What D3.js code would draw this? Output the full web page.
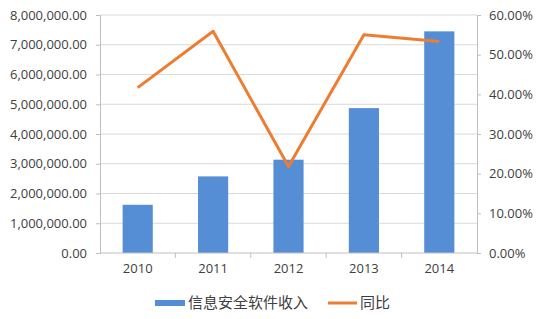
<!DOCTYPE html>
<html>
<head>
<meta charset="utf-8">
<script src="https://cdn.jsdelivr.net/npm/d3@7"></script>
<style>
  body { margin: 0; background: #fff; }
  text { font-family: "Open Sans", "Noto Sans CJK SC", sans-serif; fill: #404040; }
</style>
</head>
<body>
<svg width="542" height="319"></svg>
<script>
const years = ['2010', '2011', '2012', '2013', '2014'];
const revenue = [1620000, 2575000, 3136000, 4870000, 7450000];
const growth = [0.417, 0.559, 0.218, 0.550, 0.533];
const leftTicks = [0, 1000000, 2000000, 3000000, 4000000, 5000000, 6000000, 7000000, 8000000];
const rightTicks = [0, 0.1, 0.2, 0.3, 0.4, 0.5, 0.6];
const seriesNames = ['信息安全软件收入', '同比'];

const svg = d3.select('svg');
const margin = { top: 15, right: 65, bottom: 66, left: 100 };
const width = +svg.attr('width') - margin.left - margin.right;
const height = +svg.attr('height') - margin.top - margin.bottom;
const g = svg.append('g').attr('transform', 'translate(' + margin.left + ',' + margin.top + ')');

const x = d3.scaleBand().domain(years).range([0, width]).paddingInner(0.6).paddingOuter(0.3);
const xc = d3.scaleBand().domain(years).range([0, width]);
const y = d3.scaleLinear().domain([0, 8000000]).range([height, 0]);
const y2 = d3.scaleLinear().domain([0, 0.6]).range([height, 0]);

// grid
g.append('g')
  .selectAll('line')
  .data(leftTicks.slice(1))
  .enter()
  .append('line')
  .attr('x1', 0)
  .attr('x2', width)
  .attr('y1', function (d) { return y(d); })
  .attr('y2', function (d) { return y(d); })
  .attr('stroke', '#d9d9d9');

// left axis
const yAxis = g.append('g')
  .call(d3.axisLeft(y).tickValues(leftTicks).tickSize(4).tickPadding(9)
    .tickFormat(d3.format(',.2f')));
yAxis.select('.domain').attr('stroke', '#bfbfbf');
yAxis.selectAll('.tick line').attr('stroke', '#bfbfbf');
yAxis.selectAll('text').style('font-size', '13px');

// right axis
const y2Axis = g.append('g')
  .attr('transform', 'translate(' + width + ',0)')
  .call(d3.axisRight(y2).tickValues(rightTicks).tickSize(4).tickPadding(8)
    .tickFormat(d3.format('.2%')));
y2Axis.select('.domain').attr('stroke', '#bfbfbf');
y2Axis.selectAll('.tick line').attr('stroke', '#bfbfbf');
y2Axis.selectAll('text').style('font-size', '13px');

// bars
g.append('g')
  .selectAll('rect')
  .data(revenue)
  .enter()
  .append('rect')
  .attr('x', function (d, i) { return x(years[i]); })
  .attr('width', x.bandwidth())
  .attr('y', function (d) { return y(d); })
  .attr('height', function (d) { return height - y(d); })
  .attr('fill', '#568ed5');

// bottom axis
g.append('line')
  .attr('x1', 0).attr('x2', width)
  .attr('y1', height).attr('y2', height)
  .attr('stroke', '#bfbfbf');
g.append('g')
  .selectAll('line')
  .data(years.slice(1))
  .enter()
  .append('line')
  .attr('x1', function (d) { return xc(d); })
  .attr('x2', function (d) { return xc(d); })
  .attr('y1', height)
  .attr('y2', height + 5)
  .attr('stroke', '#bfbfbf');
g.append('g')
  .selectAll('text')
  .data(years)
  .enter()
  .append('text')
  .attr('x', function (d) { return xc(d) + xc.bandwidth() / 2; })
  .attr('y', height + 20)
  .attr('text-anchor', 'middle')
  .style('font-size', '13px')
  .text(function (d) { return d; });

// line
const line = d3.line()
  .x(function (d, i) { return xc(years[i]) + xc.bandwidth() / 2; })
  .y(function (d) { return y2(d); });
g.append('path')
  .datum(growth)
  .attr('d', line)
  .attr('fill', 'none')
  .attr('stroke', '#ed7d31')
  .attr('stroke-width', 3)
  .attr('stroke-linejoin', 'round');

// legend
const legend = svg.append('g').attr('transform', 'translate(0,303)');
legend.append('rect')
  .attr('x', 155).attr('y', -3).attr('width', 30).attr('height', 6)
  .attr('fill', '#568ed5');
legend.append('text')
  .attr('x', 188).attr('y', 0).attr('dy', '0.35em')
  .style('font-size', '15px')
  .text(seriesNames[0]);
legend.append('line')
  .attr('x1', 328).attr('x2', 357).attr('y1', 0).attr('y2', 0)
  .attr('stroke', '#ed7d31').attr('stroke-width', 3);
legend.append('text')
  .attr('x', 360).attr('y', 0).attr('dy', '0.35em')
  .style('font-size', '15px')
  .text(seriesNames[1]);
</script>
</body>
</html>
